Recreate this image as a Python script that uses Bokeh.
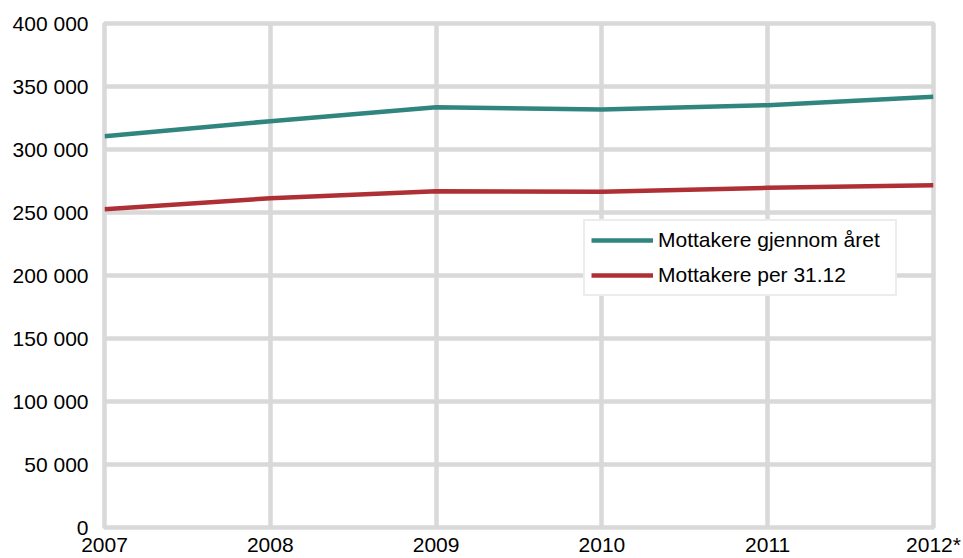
from bokeh.plotting import figure
from bokeh.models import (ColumnDataSource, Range1d, FixedTicker, CustomJSTickFormatter,
                          Legend, LegendItem)
from bokeh.embed import file_html
from bokeh.resources import INLINE

# Mottakere per år
years = [2007, 2008, 2009, 2010, 2011, 2012]
year_labels = ["2007", "2008", "2009", "2010", "2011", "2012*"]
gjennom_aret = [310600, 322500, 333500, 331700, 335200, 341800]
per_31_12 = [252600, 261300, 266900, 266400, 269600, 271700]
y_ticks = [0, 50000, 100000, 150000, 200000, 250000, 300000, 350000, 400000]

GRID = "#D9D9D9"
FONT = "Liberation Sans"

src = ColumnDataSource(dict(year=years, a=gjennom_aret, b=per_31_12))

p = figure(width=963, height=558, output_backend="svg", toolbar_location=None,
           x_range=Range1d(years[0], years[-1]), y_range=Range1d(y_ticks[0], y_ticks[-1]),
           min_border_left=104, min_border_right=30, min_border_top=23, min_border_bottom=31)
p.background_fill_color = "white"
p.border_fill_color = "white"
p.outline_line_color = GRID
p.outline_line_width = 4.5

for g in (p.xgrid, p.ygrid):
    g.grid_line_color = GRID
    g.grid_line_width = 4.5
p.xgrid.ticker = FixedTicker(ticks=years)
p.ygrid.ticker = FixedTicker(ticks=y_ticks)

p.xaxis.ticker = FixedTicker(ticks=years)
p.xaxis.major_label_overrides = {y: lab for y, lab in zip(years, year_labels)}
p.yaxis.ticker = FixedTicker(ticks=y_ticks)
p.yaxis.formatter = CustomJSTickFormatter(
    code="return tick.toFixed(0).replace(/\\B(?=(\\d{3})+(?!\\d))/g, ' ');")

for ax in (p.xaxis, p.yaxis):
    ax.axis_line_color = None
    ax.major_tick_line_color = None
    ax.minor_tick_line_color = None
    ax.major_tick_out = 0
    ax.major_tick_in = 0
    ax.major_label_text_font = FONT
    ax.major_label_text_font_size = "21px"
    ax.major_label_text_color = "#000000"
p.yaxis.major_label_standoff = 16
p.xaxis.major_label_standoff = 5

r1 = p.line("year", "a", source=src, line_color="#31857F", line_width=4.5,
            line_join="round")
r2 = p.line("year", "b", source=src, line_color="#AF3034", line_width=4.5,
            line_join="round")

legend = Legend(items=[LegendItem(label="Mottakere gjennom året", renderers=[r1]),
                       LegendItem(label="Mottakere per 31.12", renderers=[r2])],
                location=(479, 231), orientation="vertical",
                padding=6, spacing=9, margin=0,
                glyph_width=62, glyph_height=26, label_height=26,
                label_width=231, label_standoff=5,
                label_text_font=FONT, label_text_font_size="21px",
                label_text_color="#000000",
                border_line_color=GRID, border_line_width=2,
                background_fill_color="white", background_fill_alpha=1)
p.add_layout(legend, "center")

open("out.html", "w").write(file_html(p, INLINE))
